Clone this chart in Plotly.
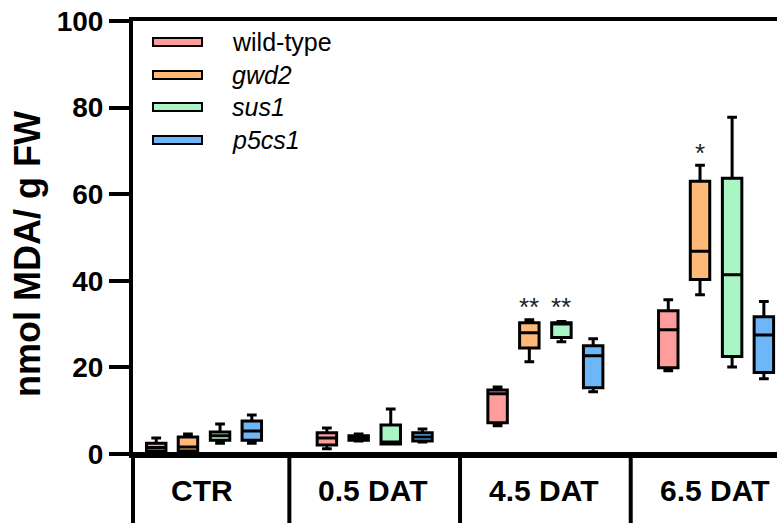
import plotly.graph_objects as go

# ---- data ----
groups = ["CTR", "0.5 DAT", "4.5 DAT", "6.5 DAT"]
genotypes = ["wild-type", "gwd2", "sus1", "p5cs1"]
legend_labels = ["wild-type", "<i>gwd2</i>", "<i>sus1</i>", "<i>p5cs1</i>"]
colors = ["#FF9C9C", "#FFB977", "#AAF5C5", "#6EB6F5"]

# per genotype: values for CTR, 0.5 DAT, 4.5 DAT, 6.5 DAT
wt_low = [0.3, 1.2, 6.5, 19.2]
wt_q1 = [0.7, 2.1, 7.2, 19.9]
wt_med = [1.5, 3.7, 13.9, 28.7]
wt_q3 = [2.5, 4.9, 14.8, 33.1]
wt_high = [3.7, 6.0, 15.5, 35.6]

gwd2_low = [0.3, 3.0, 21.3, 36.8]
gwd2_q1 = [0.7, 3.2, 24.5, 40.3]
gwd2_med = [1.6, 3.8, 28.0, 46.8]
gwd2_q3 = [3.9, 4.2, 30.3, 63.0]
gwd2_high = [4.6, 4.6, 31.0, 66.7]

sus1_low = [2.5, 2.3, 25.9, 20.1]
sus1_q1 = [3.2, 2.3, 26.9, 22.5]
sus1_med = [4.2, 2.8, 30.0, 41.4]
sus1_q3 = [5.1, 6.7, 30.3, 63.7]
sus1_high = [6.9, 10.4, 30.6, 77.8]

p5_low = [2.5, 2.8, 14.4, 17.4]
p5_q1 = [3.2, 3.0, 15.3, 18.8]
p5_med = [5.3, 3.9, 22.7, 27.5]
p5_q3 = [7.6, 4.9, 25.0, 31.7]
p5_high = [9.0, 5.8, 26.6, 35.2]

stats = [
    (wt_low, wt_q1, wt_med, wt_q3, wt_high),
    (gwd2_low, gwd2_q1, gwd2_med, gwd2_q3, gwd2_high),
    (sus1_low, sus1_q1, sus1_med, sus1_q3, sus1_high),
    (p5_low, p5_q1, p5_med, p5_q3, p5_high),
]

# significance marks: (group index, genotype index, text, y)
sig_marks = [(2, 1, "**", 35.4), (2, 2, "**", 35.4), (3, 1, "*", 70.9)]

y_ticks = [0, 20, 40, 60, 80, 100]

# ---- layout constants ----
W, H = 777, 523
ML, MR, MT, MB = 133, 0, 21, 69
PW, PH = W - ML - MR, H - MT - MB
offsets = [-0.28, -0.094, 0.094, 0.28]
x_range = [-0.416, 3.357]

def px_x(p):
    return (p - ML) / PW

def px_y(p):
    return (H - MB - p) / PH

fig = go.Figure()
for gi, (name, col) in enumerate(zip(genotypes, colors)):
    lo, q1, med, q3, hi = stats[gi]
    fig.add_trace(go.Box(
        name=name,
        x=[i + offsets[gi] for i in range(len(groups))],
        lowerfence=lo, q1=q1, median=med, q3=q3, upperfence=hi,
        width=0.114,
        whiskerwidth=0.5,
        fillcolor=col,
        line=dict(color="black", width=3),
        boxpoints=False,
        showlegend=False,
    ))

shapes = []
annotations = []

# category table below axis
bottom = px_y(H)
shapes.append(dict(type="line", xref="paper", yref="paper",
                   x0=px_x(113), x1=1, y0=0, y1=0,
                   line=dict(color="black", width=4)))
shapes.append(dict(type="line", xref="paper", yref="paper",
                   x0=0, x1=0, y0=bottom, y1=0,
                   line=dict(color="black", width=4)))
for i in range(len(groups) - 1):
    shapes.append(dict(type="line", xref="x", yref="paper",
                       x0=i + 0.5, x1=i + 0.5, y0=bottom, y1=0,
                       line=dict(color="black", width=4)))
for i, g in enumerate(groups):
    annotations.append(dict(x=i - 0.01, y=px_y(490), xref="x", yref="paper",
                            text="<b>%s</b>" % g, showarrow=False,
                            font=dict(family="Liberation Sans", size=30, color="black"),
                            xanchor="center", yanchor="middle"))

# legend (custom)
leg_y = [42, 75, 107, 140]
for lbl, col, py in zip(legend_labels, colors, leg_y):
    shapes.append(dict(type="rect", xref="paper", yref="paper",
                       x0=px_x(153), x1=px_x(202), y0=px_y(py + 4), y1=px_y(py - 4),
                       fillcolor=col, line=dict(color="black", width=2)))
    annotations.append(dict(x=px_x(230), y=px_y(py), xref="paper", yref="paper",
                            text=lbl, showarrow=False, xanchor="left", yanchor="middle",
                            font=dict(family="Liberation Sans", size=25, color="black")))

# significance asterisks
for gi, k, txt, yv in sig_marks:
    annotations.append(dict(x=gi + offsets[k], y=yv, xref="x", yref="y",
                            text=txt, showarrow=False, yanchor="middle",
                            yshift=-6,
                            font=dict(family="Liberation Sans", size=26, color="#222")))

# y-axis title
annotations.append(dict(x=px_x(27), y=px_y(254), xref="paper", yref="paper",
                        text="<b>nmol MDA/ g FW</b>", textangle=-90, showarrow=False,
                        xanchor="center", yanchor="middle",
                        font=dict(family="Liberation Sans", size=36, color="black")))

fig.update_layout(
    width=W, height=H,
    margin=dict(l=ML, r=MR, t=MT, b=MB, pad=0),
    plot_bgcolor="white", paper_bgcolor="white",
    shapes=shapes, annotations=annotations,
    showlegend=False,
)
fig.update_xaxes(range=x_range, showticklabels=False, ticks="", showgrid=False,
                 zeroline=False, showline=True, mirror=True,
                 linecolor="black", linewidth=4)
fig.update_yaxes(range=[0, 100], tickvals=y_ticks, ticks="outside", ticklen=20,
                 tickwidth=4, tickcolor="black", showgrid=False, zeroline=False,
                 showline=True, linecolor="black", linewidth=4,
                 tickfont=dict(family="Liberation Sans", size=28, color="black", weight="bold"),
                 ticklabelstandoff=0)

fig.write_html("out.html")
